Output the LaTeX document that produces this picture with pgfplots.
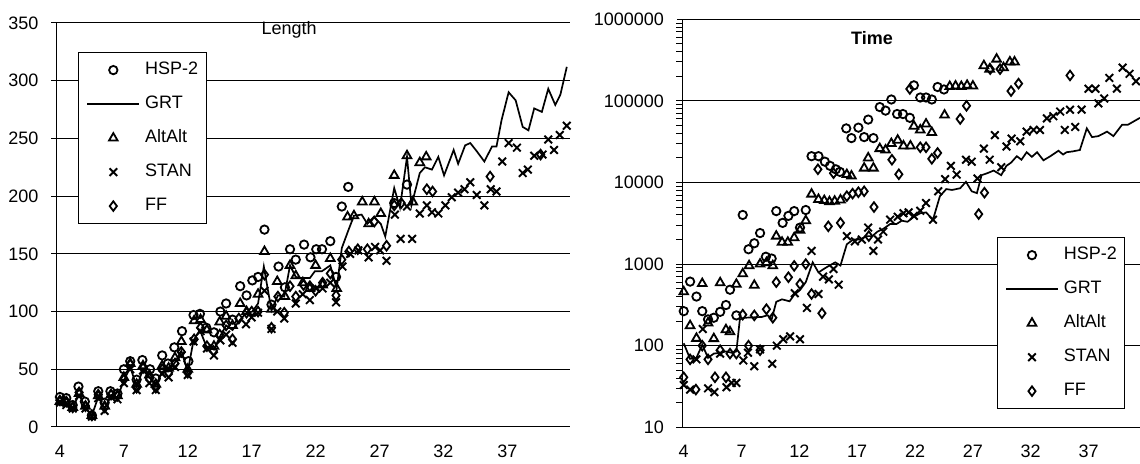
\documentclass[border=0pt]{standalone}
\usepackage{fontspec}
\setmainfont{Liberation Sans}
\usepackage{pgfplots}
\pgfplotsset{compat=1.18}
\pgfplotsset{
  chart/.style={
    scale only axis,
    axis lines*=left,
    axis line style={black,line width=0.5pt,-},
    ymajorgrids,
    grid style={black,line width=0.5pt},
    tick align=outside,
    major tick length=2.5pt,
    xtick style={draw=none},
    ytick style={black,line width=0.5pt},
    xtick={0,10,20,30,40,50,60,70},
    xticklabels={4,7,12,17,22,27,32,37},
    xticklabel shift=3pt,
    yticklabel style={xshift=-3pt},
    tick label style={font=\fontsize{9}{11}\selectfont},
    /pgf/number format/assume math mode=true,
    legend cell align=left,
    legend style={draw=black,line width=0.5pt,fill=white,font=\fontsize{9}{11}\selectfont,
      inner xsep=4pt,inner ysep=4.5pt,row sep=8.5pt,column sep=2.5pt,
      nodes={inner sep=0pt,text height=6.5pt,text depth=2pt}},
    legend image code/.code={\draw[mark repeat=2,mark phase=2,#1] plot coordinates {(0pt,0pt) (13pt,0pt) (26pt,0pt)};},
    clip mode=individual,
  },
  hsp/.style={only marks,mark=o,mark size=2.1pt,black,mark options={line width=0.9pt}},
  grt/.style={black,line width=0.85pt,no marks},
  alt/.style={only marks,mark=triangle,mark size=2.5pt,black,mark options={line width=0.9pt}},
  stan/.style={only marks,mark=x,mark size=2.7pt,black,mark options={line width=0.95pt}},
  ff/.style={only marks,mark=diamond,mark size=2.4pt,black,mark options={line width=0.9pt}},
}
\begin{document}
\begin{tikzpicture}[font=\fontsize{9}{11}\selectfont]
\useasboundingbox (0,0) rectangle (570pt,232pt);
% ---------------- Length ----------------
\begin{axis}[chart,
  at={(28.2pt,18.5pt)},anchor=south west,
  width=256.8pt,height=202pt,
  xmin=-0.55,xmax=79.8,
  ymin=0,ymax=350,ytick={0,50,100,150,200,250,300,350},
  legend style={at={(axis description cs:0.042,0.928)},anchor=north west},
]
\node[anchor=center,inner sep=0pt] at (rel axis cs:0.453,0.983) {Length};
\addplot[hsp] coordinates {(0,26)(1,25)(2,19)(2.9,35)(3.9,22)(5,10)(6,31)(7,21)(7.9,31)(9,29)(10,50)(11,57)(12,41)(12.9,58)(14.1,50)(15,42)(16,62)(16.9,55)(17.9,69)(19.1,83)(20.1,57)(20.9,97)(21.9,98)(22.9,86)(24.1,82)(25.1,100)(26,107)(27,93)(28.2,122)(29.2,114)(30.1,127)(31,130)(32,171)(33.1,106)(34.2,139)(35.2,121)(36,154)(36.9,145)(38.2,158)(39.2,147)(40.1,154)(41,154)(42.3,161)(43.2,130)(44.1,191)(45.1,208)(52.3,194)(54.3,210)};
\addlegendentry{HSP-2}
\addplot[grt] coordinates {(0,22)(1,20)(2,17)(3,28)(4,17)(5,10)(6,26)(7,16)(8,27)(9,26)(10,40)(11,52)(12,35)(13,50)(14,43)(15,36)(16,48)(17,48)(18,56)(19,66)(20,48)(20.9,75)(21.9,84)(22.9,70)(24.1,67)(25,78)(26,88)(27,84)(28.2,93)(29.2,99)(30.1,100)(31,107)(31.9,139)(33.1,101)(34.1,114)(35.1,113)(36,140)(36.9,130)(37.8,129)(39.1,129)(39.9,135)(41,135)(42.3,140)(43.3,120)(44.1,155)(45.1,170)(46,183)(47.2,184)(48.1,176)(49.1,182)(50.2,176)(50.9,165)(52.3,207)(53.2,190)(54.3,234)(55,192)(56.3,220)(57.1,225)(58.2,223)(59.2,234)(60.1,218)(61.6,240)(62.3,228)(63.4,244)(64.2,246)(65.2,239)(66.4,230)(67.6,243)(68.3,243)(69.1,266)(70.2,290)(71.3,283)(72.4,260)(73.3,257)(74.2,276)(75.4,273)(76.4,293)(77.5,279)(78.3,288)(79.3,312)};
\addlegendentry{GRT}
\addplot[alt] coordinates {(0,22)(1,21)(2,17)(3,29)(4,18)(5,10)(6,27)(7,18)(8,28)(9,27)(10,43)(11,55)(12,37)(13,53)(14,45)(15,37)(16,53)(17,51)(18,60)(19,74)(20,50)(21,92)(22,93)(23,84)(24.1,70)(25,91)(26,96)(27,88)(28.2,107)(29.2,100)(31,115)(32,152)(33.1,102)(34,126)(35.2,113)(36,140)(36.9,131)(38,125)(39.1,120)(40,140)(41.1,123)(42.3,146)(43.3,120)(45,182)(46,183)(47.3,195)(48.3,176)(49.2,195)(50.2,185)(52.3,218)(54.3,235)(55.2,195)(56.3,229)(57.3,234)};
\addlegendentry{AltAlt}
\addplot[stan] coordinates {(0,21)(1,19)(2,16)(3,27)(4,16)(5,9)(6,25)(7,14)(8,26)(9,24)(10,38)(11,50)(12,32)(13,49)(14,38)(15,32)(16,46)(17,43)(18,52)(19,62)(20,45)(20.9,74)(22,83)(23,68)(24.1,62)(25.1,75)(26,80)(27,73)(29.1,89)(30,95)(31,99)(32,118)(33.1,85)(34,100)(35.1,94)(36.9,107)(38,115)(39.1,110)(40.1,120)(41.1,120)(42.3,125)(43.2,108)(44.2,139)(45.4,150)(46.7,153)(48.3,147)(49.3,156)(50.1,153)(51.1,144)(52.4,184)(53.3,163)(54.3,191)(55.1,163)(56.3,185)(57.4,192)(58.2,186)(59.2,185)(60.3,192)(61.3,199)(62.3,203)(63.3,206)(64.2,212)(65.2,201)(66.4,192)(67.4,206)(68.3,204)(69.2,230)(70.2,246)(71.5,242)(72.4,220)(73.2,223)(74.2,235)(75.5,236)(76.4,249)(77.3,240)(78.2,253)(79.3,261)};
\addlegendentry{STAN}
\addplot[ff] coordinates {(0,23)(1,22)(2,17)(3,30)(4,18)(5,10)(6,28)(7,17)(8,28)(9,27)(10,41)(11,54)(12,34)(13,51)(14,42)(15,34)(16,50)(17,47)(18,55)(19,65)(20,47)(21,76)(22,86)(23,70)(24,66)(25,80)(26,88)(27,76)(28,94)(29.2,99)(30,100)(31,100)(32,132)(33.1,86)(34.1,113)(35.1,99)(36,122)(36.9,113)(38.1,123)(39.1,122)(40,118)(41.1,125)(42.3,133)(43.2,114)(44.1,145)(45.2,152)(46.6,154)(48.1,154)(49.2,178)(51.1,157)(52.3,192)(53.4,194)(57.4,206)(58.3,204)(67.3,217)(75.2,236)};
\addlegendentry{FF}
\end{axis}
% ---------------- Time ----------------
\begin{axis}[chart,
  at={(341pt,18.35pt)},anchor=south west,
  width=229pt,height=204pt,
  xmin=-0.3,xmax=78.9,
  ymode=log,ymin=10,ymax=1000000,
  ytick={10,100,1000,10000,100000,1000000},
  yticklabels={10,100,1000,10000,100000,1000000},
  minor ytick={},
  legend style={at={(axis description cs:0.687,0.466)},anchor=north west},
]
\node[anchor=center,inner sep=0pt,font=\fontsize{9}{11}\selectfont\bfseries] at (rel axis cs:0.415,0.954) {Time};
\addplot[hsp] coordinates {(0,265)(1.1,610)(2.2,400)(3.2,265)(4.2,210)(5.2,220)(6.3,260)(7.3,315)(8,485)(9.1,235)(10.2,4000)(11.2,1520)(12.2,1800)(13.2,2400)(14.2,1230)(15.2,1170)(16,4460)(17.1,3200)(18.1,3900)(19.1,4460)(20.1,2800)(21.1,4600)(22.1,21000)(23.3,21000)(24.4,18000)(25.3,16000)(26.3,14500)(27,13500)(28.1,46000)(29,35000)(30.2,47000)(31.2,36000)(31.9,59000)(32.8,35000)(33.9,84000)(34.9,76000)(35.9,104000)(36.9,69000)(37.9,69000)(39.1,62000)(39.8,155000)(40.9,110000)(41.9,110000)(42.9,104000)(43.9,148000)(45,138000)};
\addlegendentry{HSP-2}
\addplot[grt] coordinates {(0,107)(1.1,69)(2.2,71)(3.2,103)(4.2,71)(5.2,80)(6.3,82)(7.3,85)(8.3,82)(9.1,85)(9.7,210)(10.5,220)(11.8,222)(13.5,225)(14.5,236)(15.2,210)(16,345)(17,370)(18.3,350)(19.1,420)(20.1,480)(21.1,600)(22.3,1050)(23.3,790)(24.2,870)(25.2,960)(26.2,1050)(27.1,960)(28.2,1750)(29.3,2000)(30.5,2000)(31.6,2200)(32.6,2200)(33.5,2500)(34.5,2700)(35.7,3100)(36.8,3100)(37.7,3400)(38.7,3300)(39.8,3800)(40.9,4200)(41.9,4300)(43.1,3500)(44.3,6800)(45.4,8300)(46.4,8100)(47.8,8500)(48.8,10200)(49.8,7800)(50.7,7400)(51.5,12300)(52.5,13000)(53.6,14000)(54.9,12300)(55.8,16000)(56.6,17500)(57.6,21000)(58.4,19000)(59.3,23500)(60.2,20600)(61.1,23500)(62.2,18700)(63.4,21000)(64.8,24500)(65.6,22000)(66.2,23500)(67.2,24000)(68.5,25000)(69.7,46000)(70.6,36000)(71.7,37000)(73.2,42000)(74.3,37000)(75.8,51000)(76.8,51000)(77.8,56000)(78.9,62000)};
\addlegendentry{GRT}
\addplot[alt] coordinates {(0,457)(1.1,176)(2.2,123)(3.2,577)(4.2,190)(5.2,122)(6.3,590)(7.3,157)(8,148)(9.1,565)(10.2,760)(11.3,955)(12.2,550)(13.2,1000)(14.3,1040)(15.4,955)(16,2200)(17,1850)(18,1850)(19.1,2100)(20.1,2600)(21.1,3400)(22.1,7200)(23.3,6200)(24.3,6000)(25.2,5800)(26.1,5900)(27.1,6100)(28.2,12500)(29,12000)(31.2,15000)(31.9,20000)(32.8,15000)(33.9,26000)(34.9,25000)(35.9,30000)(37,33000)(38,28000)(39.2,28000)(39.8,49000)(40.9,44000)(41.9,52000)(42.9,41000)(45.1,67000)(46,150000)(47,152000)(48,150000)(49,155000)(50,152000)(51.9,270000)(52.9,245000)(54.1,325000)(55.3,255000)(56.4,300000)(57.2,300000)};
\addlegendentry{AltAlt}
\addplot[stan] coordinates {(0,33)(1.1,29)(2.2,68)(3.3,160)(4.2,30)(5.3,27)(6.3,80)(7.4,31)(8.3,35)(9.1,35)(10.3,66)(11.1,82)(12.2,56)(13.2,90)(15.3,60)(16.1,100)(17.2,120)(18.4,130)(19.2,440)(20.1,120)(21.3,290)(22.1,1450)(23.3,430)(24.1,700)(25.1,650)(25.9,870)(26.8,560)(28.2,2200)(29.6,1900)(30.8,2000)(31.9,2800)(32.8,1450)(33.6,2000)(34.5,2500)(35.7,3500)(37,3800)(38,4200)(38.9,4300)(39.8,3900)(40.9,4500)(41.9,5600)(43.1,3500)(44,7800)(45.2,11000)(46.2,16000)(47.2,12500)(48.8,19000)(49.8,18000)(50.8,11200)(51.9,26000)(52.9,19000)(53.8,38000)(54.9,15400)(55.8,27600)(56.7,34500)(58.2,32000)(59.3,42000)(60.5,44000)(61.6,44000)(62.8,61000)(63.9,65000)(65.1,74000)(65.9,44000)(66.8,78000)(67.7,48000)(68.8,78000)(70,141000)(71.2,141000)(71.7,93000)(72.7,107000)(73.6,191000)(74.9,141000)(75.9,256000)(77.1,215000)(78.2,174000)};
\addlegendentry{STAN}
\addplot[ff] coordinates {(0,41)(1.1,68)(2.1,29)(3.2,100)(4.2,68)(5.4,41)(6.3,88)(7.3,41)(8,80)(9.1,80)(10.2,240)(11.2,100)(12.2,235)(13.2,88)(14.3,280)(15.4,220)(16,600)(18.1,690)(19.1,950)(20.1,570)(21.1,1000)(22.1,430)(23.2,14500)(23.9,250)(25,2900)(25.9,13000)(27.1,3200)(28.2,6800)(29.2,7300)(30.2,7600)(31.2,7800)(32,2200)(32.9,5000)(36,19000)(37.2,12600)(39.1,140000)(40.9,27000)(41.9,27000)(42.9,19500)(43.9,23000)(47.8,60000)(48.9,87000)(51,4100)(52,7500)(53,245000)(54.7,245000)(56.6,132000)(57.9,163000)(66.8,205000)};
\addlegendentry{FF}
\end{axis}
\end{tikzpicture}
\end{document}
